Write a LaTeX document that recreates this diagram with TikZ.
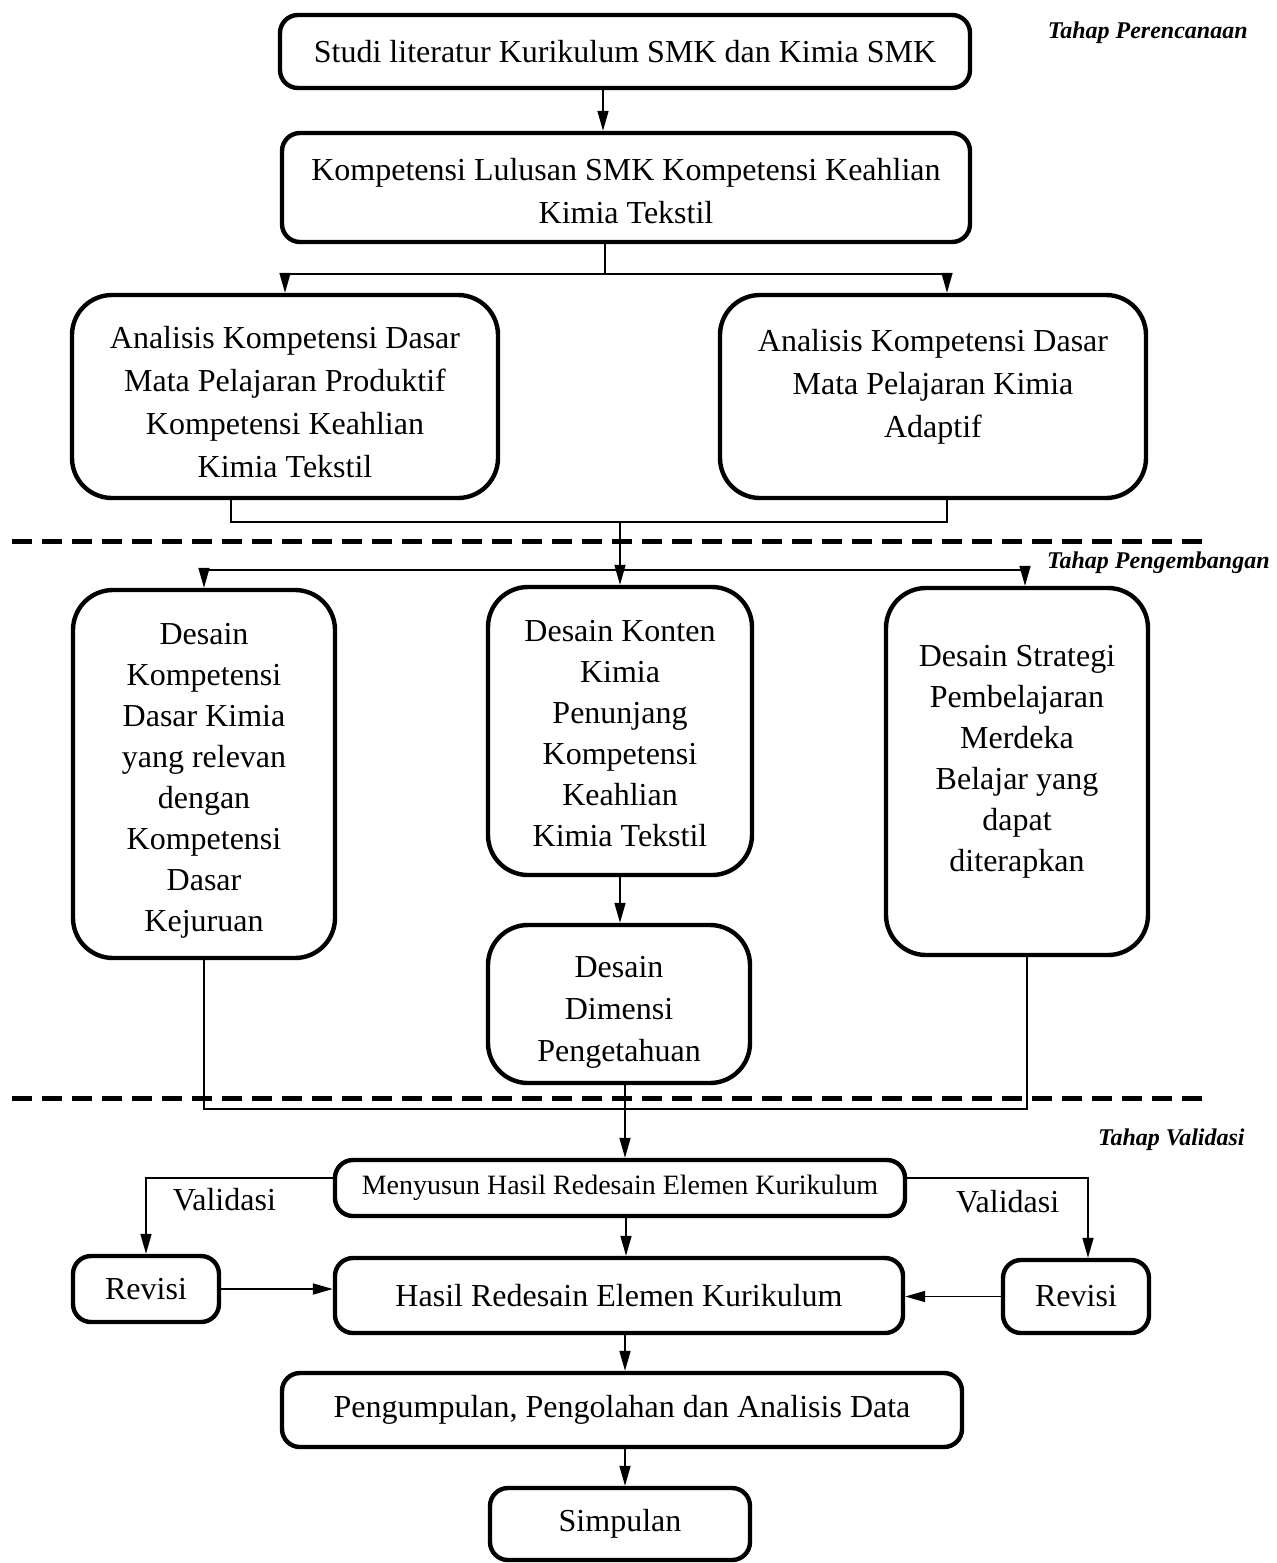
\documentclass[tikz,border=0pt]{standalone}
\usepackage{fontspec}
\setmainfont{Liberation Serif}
\usetikzlibrary{arrows.meta}
\tikzset{box/.style={draw,line width=2.2pt,rounded corners=9pt,align=center,inner sep=0pt,font=\fontsize{16}{21.5}\selectfont}}

\begin{document}
\begin{tikzpicture}[x=0.5pt,y=-0.5pt,
    tall/.style={box,rounded corners=20pt},
    link/.style={line width=0.8pt},
    arr/.style={link,-{Triangle[length=10pt,width=5.5pt]}},
    lbl/.style={inner sep=0pt,font=\fontsize{16}{21.5}\selectfont},
    phase/.style={line width=2.5pt,dash pattern=on 10pt off 5pt},
    stage/.style={anchor=east,inner sep=0pt,font=\fontsize{12}{14}\selectfont\bfseries\itshape}]
        \useasboundingbox (0,0) rectangle (1276,1563);
        \node[box,minimum width=345pt,minimum height=36.5pt] (studi) at (625,51.5) {Studi literatur Kurikulum SMK dan Kimia SMK};
        \node[box,minimum width=344pt,minimum height=54.5pt,label={[yshift=-2pt,align=center,font=\fontsize{16}{21.5}\selectfont]center:Kompetensi Lulusan SMK Kompetensi Keahlian\\Kimia Tekstil}] (lulusan) at (626,187.5) {};
        \node[tall,minimum width=213pt,minimum height=101.5pt,label={[yshift=-3pt,align=center,font=\fontsize{16}{21.5}\selectfont]center:Analisis Kompetensi Dasar\\Mata Pelajaran Produktif\\Kompetensi Keahlian\\Kimia Tekstil}] (produktif) at (285,396.5) {};
        \node[tall,minimum width=213pt,minimum height=101.5pt,label={[yshift=5pt,align=center,font=\fontsize{16}{21.5}\selectfont]center:Analisis Kompetensi Dasar\\Mata Pelajaran Kimia\\Adaptif}] (adaptif) at (933,396.5) {};
        \node[tall,minimum width=131pt,minimum height=184pt,label={[yshift=-3.5pt,align=center,font=\fontsize{16}{20.5}\selectfont]center:Desain\\Kompetensi\\Dasar Kimia\\yang relevan\\dengan\\Kompetensi\\Dasar\\Kejuruan}] (dkd) at (204,774) {};
        \node[tall,minimum width=132pt,minimum height=144pt,label={[yshift=-1.5pt,align=center,font=\fontsize{16}{20.5}\selectfont]center:Desain Konten\\Kimia\\Penunjang\\Kompetensi\\Keahlian\\Kimia Tekstil}] (konten) at (620,731) {};
        \node[tall,minimum width=131pt,minimum height=79pt,label={[yshift=-4pt,align=center,font=\fontsize{16}{21}\selectfont]center:Desain\\Dimensi\\Pengetahuan}] (dimensi) at (619,1004) {};
        \node[tall,minimum width=131pt,minimum height=183.5pt,label={[yshift=5pt,align=center,font=\fontsize{16}{20.5}\selectfont]center:Desain Strategi\\Pembelajaran\\Merdeka\\Belajar yang\\dapat\\diterapkan}] (strategi) at (1017,771.5) {};
        \node[box,minimum width=285pt,minimum height=28pt,font=\fontsize{14}{17}\selectfont] (susun) at (620,1188) {Menyusun Hasil Redesain Elemen Kurikulum};
        \node[box,minimum width=284pt,minimum height=37.5pt] (hasil) at (619,1295.5) {Hasil Redesain Elemen Kurikulum};
        \node[box,minimum width=73pt,minimum height=33pt] (revkiri) at (146,1289) {Revisi};
        \node[box,minimum width=73pt,minimum height=36.5pt] (revkanan) at (1076,1296.5) {Revisi};
        \node[box,minimum width=340pt,minimum height=37pt] (olah) at (622,1410) {Pengumpulan, Pengolahan dan Analisis Data};
        \node[box,minimum width=130pt,minimum height=36pt] (simpulan) at (620,1524) {Simpulan};

        \node[stage] (perencanaan) at (1248,33) {Tahap Perencanaan};
        \node[stage] (pengembangan) at (1270,563) {Tahap Pengembangan};
        \node[stage] (validasi) at (1245,1140) {Tahap Validasi};
        \draw[phase] (12,541) -- (1205,541);
        \draw[phase] (12,1098) -- (1205,1098);

        \draw[arr] ([xshift=-11pt]studi.south) -- ([xshift=-11pt]studi.south |- lulusan.north);
        \draw[link] ([xshift=-10.5pt]lulusan.south) -- ++(0,30) coordinate (split1);
        \draw[arr] (split1) -| (produktif.north);
        \draw[arr] (split1) -| ([xshift=7pt]adaptif.north);
        \draw[link] ([xshift=-27pt]produktif.south) -- ++(0,22) coordinate (merge1) -| ([xshift=7pt]adaptif.south);
        \draw[arr] (merge1 -| konten.north) -- (konten.north);
        \path (merge1 -| konten.north) ++(0,48) coordinate (split2);
        \draw[link] (split2 -| dkd.north) -- (split2 -| strategi.north);
        \draw[arr] (split2) -| (dkd.north);
        \draw[arr] (split2) -| ([xshift=4pt]strategi.north);
        \draw[arr] (konten.south) -- (konten.south |- dimensi.north);
        \draw[link] (dkd.south) -- ++(0,149) coordinate (merge2) -| ([xshift=5pt]strategi.south);
        \draw[arr] ([xshift=3pt]dimensi.south) -- ([xshift=3pt]dimensi.south |- susun.north);
        \draw[arr] ([yshift=5pt]susun.west) -| (revkiri.north) node[lbl,pos=0.64,anchor=west,xshift=13pt] {Validasi};
        \draw[arr] ([yshift=5pt]susun.east) -| ([xshift=6pt]revkanan.north) node[lbl,pos=0.65,anchor=east,xshift=-14pt] {Validasi};
        \draw[arr] ([xshift=3pt]susun.south) -- ([xshift=3pt]susun.south |- hasil.north);
        \draw[arr] (revkiri.east) -- (revkiri.east -| hasil.west);
        \draw[arr] (revkanan.west) -- (revkanan.west -| hasil.east);
        \draw[arr] ([xshift=3pt]hasil.south) -- ([xshift=3pt]hasil.south |- olah.north);
        \draw[arr] ([xshift=1.5pt]olah.south) -- ([xshift=1.5pt]olah.south |- simpulan.north);
    \end{tikzpicture}
\end{document}
